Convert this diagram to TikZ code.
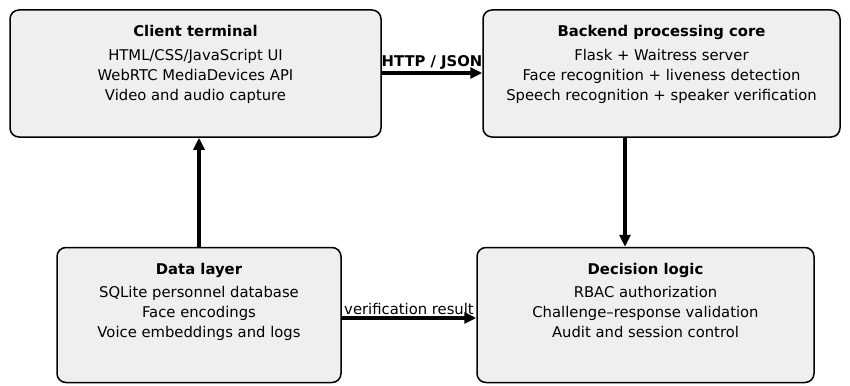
\documentclass[tikz,border=0pt]{standalone}
\usepackage{fontspec}
\setmainfont{DejaVu Sans}
\usetikzlibrary{arrows.meta}
\definecolor{boxfill}{HTML}{EFEFEF}
\begin{document}
\begin{tikzpicture}[x=1pt,y=-1pt,
  blk/.style={draw=black, line width=1.5pt, fill=boxfill, rounded corners=9pt, inner sep=0pt},
  txt/.style={anchor=north, align=center, font=\fontsize{14.8}{20.2}\selectfont, inner sep=0pt},
  conn/.style={line width=3.5pt, -{Triangle[length=12pt,width=11pt]}},
  lbl/.style={font=\fontsize{14.8}{16}\selectfont, inner sep=1.5pt, anchor=south}
]
\useasboundingbox (0,0) rectangle (850,385);
% boxes
\node[blk, minimum width=371pt, minimum height=127pt] (client) at (195.5,73.5) {};
\node[blk, minimum width=357pt, minimum height=127pt] (backend) at (661.5,73.5) {};
\node[blk, minimum width=284pt, minimum height=135pt] (data) at (199,315) {};
\node[blk, minimum width=337pt, minimum height=135pt] (decision) at (645.5,315) {};
% texts
\node[txt] (clientT) at ([yshift=-16pt]client.north) {\textbf{Client terminal}\\[3.2pt]HTML/CSS/JavaScript UI\\WebRTC MediaDevices API\\Video and audio capture};
\node[txt] (backendT) at ([yshift=-16pt]backend.north) {\textbf{Backend processing core}\\[3.2pt]Flask + Waitress server\\Face recognition + liveness detection\\Speech recognition + speaker verification};
\node[txt] (dataT) at ([yshift=-16pt]data.north) {\textbf{Data layer}\\[3.2pt]SQLite personnel database\\Face encodings\\Voice embeddings and logs};
\node[txt] (decisionT) at ([yshift=-16pt]decision.north) {\textbf{Decision logic}\\[3.2pt]RBAC authorization\\Challenge–response validation\\Audit and session control};
% connectors
\draw[conn] (client.east |- 0,73) -- (backend.west |- 0,73) node[midway, lbl] (httpL) {\textbf{HTTP / JSON}};
\draw[conn] (data.north -| 199,0) -- (client.south -| 199,0);
\draw[conn] (backend.south -| 625,0) -- (decision.north -| 625,0);
\draw[conn] (data.east |- 0,318) -- (decision.west |- 0,318) node[midway, lbl] (verL) {verification result};
\end{tikzpicture}
\end{document}
